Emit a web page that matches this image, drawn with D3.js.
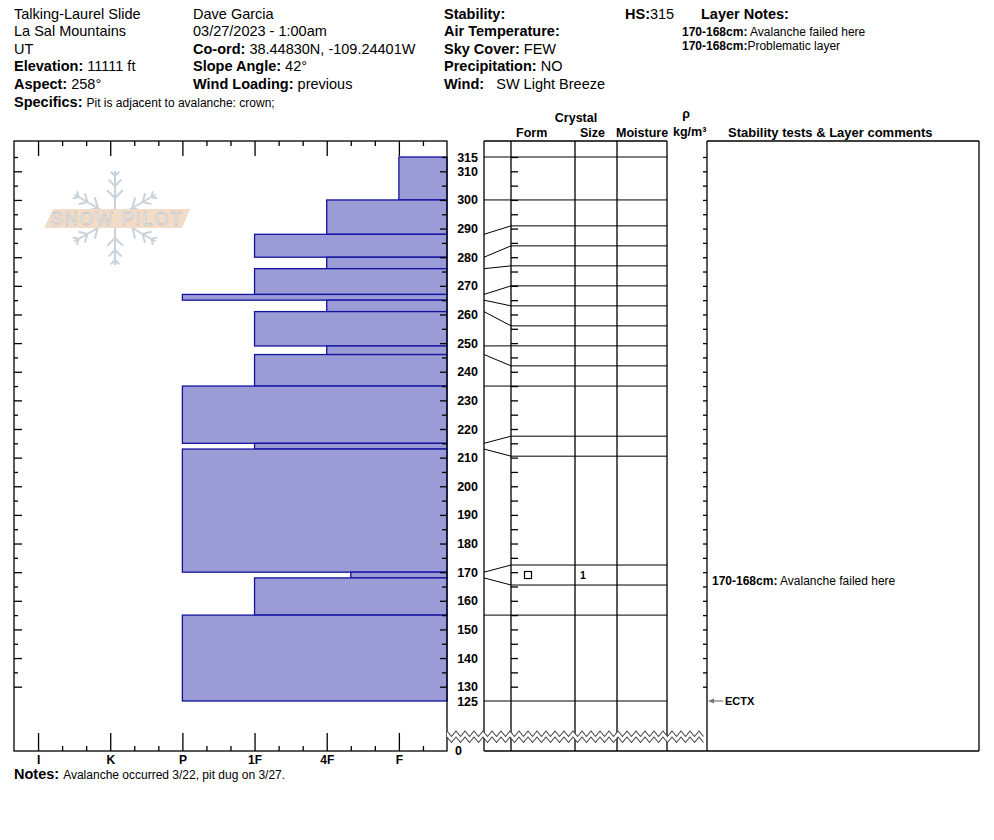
<!DOCTYPE html>
<html>
<head>
<meta charset="utf-8">
<script src="https://cdn.jsdelivr.net/npm/d3@7"></script>
<style>
body{margin:0;background:#fff;}
svg{display:block;font-family:"Liberation Sans",Arial,sans-serif;}
text{white-space:pre;}
</style>
</head>
<body>
<svg width="994" height="840"></svg>
<script>
// ---- data ----
var layerTop    = [315,300,288,280,276,267,265,261,249,246,235,215,213,170,168,155];
var layerBottom = [300,288,280,276,267,265,261,249,246,235,215,213,170,168,155,125];
var layerHard   = ["F","4F","1F","4F","1F","P","4F","1F","4F","1F","P","1F","P","4F-","1F","P"];
var hardLabels  = ["I","K","P","1F","4F","F"];
var depthLabels = [315,310,300,290,280,270,260,250,240,230,220,210,200,190,180,170,160,150,140,130,125];

var grainTop = [170], grainBottom = [168], grainForm = ["FC"], grainSize = ["1"];
var testDepth = [125], testLabel = ["ECTX"];
var commentTop = [170], commentBottom = [168], commentText = ["Avalanche failed here"];

var siteInfo = [["","Talking-Laurel Slide"],["","La Sal Mountains"],["","UT"],["Elevation: ","11111 ft"],["Aspect: ","258°"]];
var obsInfo  = [["","Dave Garcia"],["","03/27/2023 - 1:00am"],["Co-ord: ","38.44830N, -109.24401W"],["Slope Angle: ","42°"],["Wind Loading: ","previous"]];
var wxInfo   = [["Stability:",""],["Air Temperature:",""],["Sky Cover: ","FEW"],["Precipitation: ","NO"],["Wind: ","  SW Light Breeze"]];
var noteRange = ["170-168cm:","170-168cm:"], noteText = [" Avalanche failed here","Problematic layer"];
var specifics = "Pit is adjacent to avalanche: crown;";
var notes = "Avalanche occurred 3/22, pit dug on 3/27.";
var HS = 315;

var svg = d3.select("svg");

// layout
var chartTop = 141, chartBottom = 751, breakY = 731;
var colL = 484, colForm = 511, colSize = 575, colMoist = 617, colRho = 667, colStab = 707, colR = 979;

var y = d3.scaleLinear().domain([125,315]).range([701,157]);
var xH = d3.scaleLinear().domain([2/3,20/3]).range([14,447]);

function hardVal(h)
{
	var base = h.replace(/[+-]$/,"");
	var v = hardLabels.indexOf(base)+1;
	if(h.slice(-1)=="-") v += 1/3;
	if(h.slice(-1)=="+") v -= 1/3;
	return v;
}

// ---- header ----
function infoBlock(rows,x,rowY)
{
	rows.forEach(function(r,i){
		var t = svg.append("text").attr("x",x).attr("y",rowY(i)).style("font-size","14.5px");
		if(r[0]) t.append("tspan").attr("font-weight","bold").text(r[0]);
		if(r[1]) t.append("tspan").text(r[1]);
	});
}
var rowY = function(i){return 18.5+i*17.6;};
infoBlock(siteInfo,14,rowY);
infoBlock(obsInfo,193,rowY);
infoBlock(wxInfo,444,rowY);

var hs = svg.append("text").attr("x",625).attr("y",rowY(0)).style("font-size","14.5px");
hs.append("tspan").attr("font-weight","bold").text("HS:");
hs.append("tspan").text(HS);
svg.append("text").attr("x",701).attr("y",rowY(0)).style("font-size","14.5px").attr("font-weight","bold").text("Layer Notes:");
noteRange.forEach(function(r,i){
	var t = svg.append("text").attr("x",682).attr("y",36+i*13.5).style("font-size","12px");
	t.append("tspan").attr("font-weight","bold").text(r);
	t.append("tspan").text(noteText[i]);
});

var sp = svg.append("text").attr("x",14).attr("y",106.5);
sp.append("tspan").attr("font-weight","bold").style("font-size","14.5px").text("Specifics: ");
sp.append("tspan").style("font-size","12px").text(specifics);

var nt = svg.append("text").attr("x",14).attr("y",779);
nt.append("tspan").attr("font-weight","bold").style("font-size","14.5px").text("Notes: ");
nt.append("tspan").style("font-size","12px").text(notes);

// column headers
var hdr = [["Crystal",576,122,"middle",12.5],["Form",516,137,"start",12.5],["Size",580,137,"start",12.5],["Moisture",616,137,"start",12.5],
	["\u03C1",686,118,"middle",12.5],["kg/m\u00B3",673,136,"start",12.5],["Stability tests & Layer comments",728,137,"start",13]];
hdr.forEach(function(h){
	svg.append("text").attr("x",h[1]).attr("y",h[2]).attr("text-anchor",h[3])
		.attr("font-weight","bold").style("font-size",h[4]+"px").text(h[0]);
});

// ---- logo (watermark) ----
var logo = svg.append("g").attr("transform","translate(115,218)");
[90,30,-30,-90,150,210].forEach(function(a){
	var r = a*Math.PI/180, c = Math.cos(r), s = -Math.sin(r);
	logo.append("line").attr("x1",c*6).attr("y1",s*6).attr("x2",c*47).attr("y2",s*47)
		.attr("stroke","#c9d1d9").attr("stroke-width",2);
	[20,32,42].forEach(function(d,k){
		var len = [11,9,6][k];
		[-45,45].forEach(function(o){
			var rr = (a+o)*Math.PI/180;
			logo.append("line").attr("x1",c*d).attr("y1",s*d)
				.attr("x2",c*d+Math.cos(rr)*len).attr("y2",s*d-Math.sin(rr)*len)
				.attr("stroke","#c9d1d9").attr("stroke-width",2);
		});
	});
});
logo.append("polygon").attr("points","-71,10 -62,-9 75,-9 67,10").attr("fill","#f3dcc7");
logo.append("text").attr("x",2).attr("y",7).attr("text-anchor","middle")
	.style("font-size","18px").style("font-family","Liberation Sans, sans-serif").style("letter-spacing","2px")
	.attr("fill","#fff").attr("stroke","#c4c4c4").attr("stroke-width",0.8)
	.text("SNOW PILOT");

// ---- hardness bars ----
svg.append("g").selectAll("rect").data(layerTop).enter().append("rect")
	.attr("x",function(d,i){return xH(hardVal(layerHard[i]));})
	.attr("y",function(d){return y(d);})
	.attr("width",function(d,i){return xH(20/3)-xH(hardVal(layerHard[i]));})
	.attr("height",function(d,i){return y(layerBottom[i])-y(d);})
	.attr("fill","#9b9bd6").attr("stroke","#1212a0").attr("stroke-width",1.3);

// left chart frame
svg.append("rect").attr("x",14).attr("y",chartTop).attr("width",447-14).attr("height",chartBottom-chartTop)
	.attr("fill","none").attr("stroke","#000").attr("stroke-width",1.3);

function tickAxis(axisFn,scale,values,size,tx,ty)
{
	svg.append("g").attr("transform","translate("+tx+","+ty+")")
		.call(axisFn(scale).tickValues(values).tickSize(size).tickFormat(""))
		.call(function(g){g.select(".domain").remove();})
		.selectAll("line").attr("stroke","#000").attr("stroke-width",1.3);
}
var majorH = [1,2,3,4,5,6];
var minorH = [4,5,7,8,10,11,13,14,16,17,19].map(function(d){return d/3;});
tickAxis(d3.axisTop,xH,majorH,-15,0,chartTop);
tickAxis(d3.axisTop,xH,minorH,-5,0,chartTop);
tickAxis(d3.axisBottom,xH,minorH,-5,0,chartBottom);

// hardness labels on bottom axis
svg.append("g").attr("transform","translate(0,"+chartBottom+")")
	.call(d3.axisBottom(xH).tickValues(majorH).tickFormat(function(d){return hardLabels[d-1];})
		.tickSizeInner(-18).tickSizeOuter(0).tickPadding(4))
	.call(function(g){
		g.select(".domain").remove();
		g.selectAll("line").attr("stroke","#000").attr("stroke-width",1.3);
		g.selectAll("text").attr("fill","#000").attr("font-weight","bold")
			.style("font-size","12px").style("font-family","Liberation Sans, Arial, sans-serif");
	});

var majorD = d3.range(130,311,10);
var minorD = d3.range(135,316,10);
tickAxis(d3.axisLeft,y,majorD,-8,14,0);
tickAxis(d3.axisLeft,y,minorD,-4,14,0);
tickAxis(d3.axisRight,y,majorD,-7,447,0);
tickAxis(d3.axisRight,y,minorD,-5,447,0);

// depth labels
svg.append("g").attr("transform","translate(478,0)")
	.call(d3.axisLeft(y).tickValues(depthLabels).tickSize(0).tickPadding(0))
	.call(function(g){
		g.select(".domain").remove();
		g.selectAll("text").attr("fill","#000").attr("font-weight","bold")
			.style("font-size","12.5px").style("font-family","Liberation Sans, Arial, sans-serif");
	});
svg.append("text").attr("x",455).attr("y",chartBottom).attr("dy","0.35em").attr("font-weight","bold")
	.style("font-size","12.5px").text("0");

// ---- grain column grid ----
var frame = svg.append("g").attr("stroke","#000").attr("stroke-width",1.3).attr("fill","none");
[colL,colForm,colSize,colMoist,colRho,colStab,colR].forEach(function(x){
	frame.append("line").attr("x1",x).attr("x2",x).attr("y1",chartTop).attr("y2",chartBottom);
});
frame.append("line").attr("x1",colL).attr("x2",colRho).attr("y1",chartTop).attr("y2",chartTop);
frame.append("line").attr("x1",colStab).attr("x2",colR).attr("y1",chartTop).attr("y2",chartTop);
frame.append("line").attr("x1",colL).attr("x2",colR).attr("y1",chartBottom).attr("y2",chartBottom);

tickAxis(d3.axisLeft,y,majorD.concat(minorD),-7,colForm,0);
tickAxis(d3.axisRight,y,majorD.concat(minorD),-4,colStab,0);

// boundary positions spread apart so thin layers stay readable
var bounds = d3.sort(Array.from(new Set(layerTop.concat(layerBottom))),function(a,b){return b-a;});
var gap = 20;
var clusters = bounds.map(function(d){return {m:[d],c:y(d)};});
function cTop(c){return c.c-(c.m.length-1)*gap/2;}
function cBot(c){return c.c+(c.m.length-1)*gap/2;}
var merged = true;
while(merged)
{
	merged = false;
	for(var i=0;i<clusters.length-1;i++)
	{
		if(cTop(clusters[i+1])-cBot(clusters[i])<gap)
		{
			var m = clusters[i].m.concat(clusters[i+1].m);
			clusters.splice(i,2,{m:m,c:d3.mean(m,function(d){return y(d);})});
			merged = true;
			break;
		}
	}
}
var disp = {};
clusters.forEach(function(c){
	c.m.forEach(function(d,k){disp[d] = cTop(c)+k*gap;});
});

var bl = svg.append("g").attr("stroke","#000").attr("stroke-width",1).attr("fill","none");
bounds.forEach(function(d){
	bl.append("polyline").attr("points",[[colL,y(d)],[colForm,disp[d]],[colRho,disp[d]]].join(" "));
});

// grain form / size
grainTop.forEach(function(d,i){
	var cy = (disp[d]+disp[grainBottom[i]])/2;
	if(grainForm[i]=="FC")
		svg.append("rect").attr("x",524.5).attr("y",cy-3.5).attr("width",7).attr("height",7)
			.attr("fill","none").attr("stroke","#000").attr("stroke-width",1.2);
	svg.append("text").attr("x",580).attr("y",cy).attr("dy","0.35em").attr("font-weight","bold")
		.style("font-size","10.5px").text(grainSize[i]);
});

// layer comments
commentTop.forEach(function(d,i){
	var t = svg.append("text").attr("x",712).attr("y",disp[commentBottom[i]]).style("font-size","12px");
	t.append("tspan").attr("font-weight","bold").text(d+"-"+commentBottom[i]+"cm:");
	t.append("tspan").text(" "+commentText[i]);
});

// stability tests
testDepth.forEach(function(d,i){
	var ty = y(d);
	svg.append("line").attr("x1",712).attr("x2",723).attr("y1",ty).attr("y2",ty).attr("stroke","#777").attr("stroke-width",1.2);
	svg.append("path").attr("d","M708,"+ty+"L714,"+(ty-2.5)+"L714,"+(ty+2.5)+"Z").attr("fill","#777");
	svg.append("text").attr("x",725).attr("y",ty).attr("dy","0.35em").attr("font-weight","bold")
		.style("font-size","11px").text(testLabel[i]);
});

// ---- depth break ----
var up = [], lo = [];
for(var x=447, k=0; x<=colStab+0.1; x+=4.5, k++)
{
	var yy = breakY + (k%2 ? 5.5 : 0);
	up.push([x,yy]);
	lo.push([x,yy+6]);
}
svg.append("polygon").attr("points",up.concat(lo.slice().reverse()).join(" ")).attr("fill","#fff");
svg.append("polyline").attr("points",up.join(" ")).attr("fill","none").attr("stroke","#444").attr("stroke-width",1.1);
svg.append("polyline").attr("points",lo.join(" ")).attr("fill","none").attr("stroke","#444").attr("stroke-width",1.1);
</script>
</body>
</html>
